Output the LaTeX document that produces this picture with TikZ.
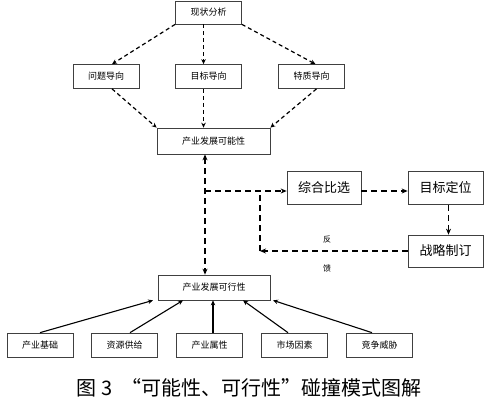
\documentclass[tikz,border=0pt]{standalone}
\usepackage{fontspec}
\setmainfont{Noto Sans CJK SC}
\usetikzlibrary{arrows.meta,calc}

\begin{document}
\begin{tikzpicture}[x=1pt, y=-1pt, font=\fontsize{9}{10}\selectfont,
    box/.style={draw=black!75, line width=0.7pt, inner sep=0pt, minimum width=66pt, minimum height=24pt},
    bigbox/.style={box, minimum width=74pt, minimum height=33pt, font=\fontsize{13}{14}\selectfont},
    dashline/.style={dash pattern=on 4pt off 3pt, line width=1.2pt, -{Stealth[length=5pt,width=4.5pt]}},
    thickdash/.style={dash pattern=on 6pt off 4pt, line width=1.7pt, -{Stealth[length=6pt,width=5pt]}},
    solidline/.style={line width=1.1pt, -{Stealth[length=5pt,width=4.5pt]}}]
    \useasboundingbox (0,0) rectangle (500,405);

    % --- Possibility part ---
    \node[box, minimum height=23pt] (xz) at (208.5,12.5) {现状分析};
    \node[box] (wt) at (106,76.5) {问题导向};
    \node[box] (mb) at (208.5,76.5) {目标导向};
    \node[box] (tz) at (311.5,76.5) {特质导向};
    \node[box, minimum width=113pt, minimum height=26pt] (kn) at (213.5,141) {产业发展可能性};
    % Analysis to the three guides
    \draw[dashline] (xz.south west) -- ([xshift=6pt]wt.north);
    \draw[dashline] ([xshift=-5pt]xz.south) -- ([xshift=-5pt]mb.north);
    \draw[dashline] (xz.south east) -- ([xshift=4pt]tz.north);
    % Guides to possibility
    \draw[dashline] ([xshift=6pt]wt.south) -- (kn.north west);
    \draw[dashline] ([xshift=-5pt]mb.south) -- ([xshift=-5pt]mb.south |- kn.north);
    \draw[dashline] ([xshift=5pt]tz.south) -- (kn.north east);

    % --- Comparison loop ---
    \node[bigbox] (zh) at (324,188) {综合比选};
    \node[bigbox, minimum width=75pt] (dw) at (445.5,188) {目标定位};
    \node[bigbox, minimum width=75pt, minimum height=32pt] (zl) at (445.5,251) {战略制订};
    \coordinate (jn) at (205,191);
    \coordinate (fb) at (260,251);
    \draw[thickdash] (jn) -- (jn -| zh.west);
    \draw[thickdash] (zh.east |- jn) -- (dw.west |- jn);
    \draw[thickdash] ([xshift=3pt]dw.south) -- ([xshift=3pt]zl.north);
    % Feedback
    \draw[thickdash] (zl.west) -- (fb);
    \draw[dash pattern=on 6pt off 4pt, line width=1.7pt] (fb) -- (fb |- jn);
    \node[font=\fontsize{8}{9}\selectfont] (fan) at (327,240) {反};
    \node[font=\fontsize{8}{9}\selectfont] (kui) at (327,268) {馈};

    % --- Feasibility part ---
    \node[box, minimum width=112pt, minimum height=25pt] (kx) at (214,287.5) {产业发展可行性};
    \draw[thickdash, {Stealth[length=6pt,width=5pt]}-{Stealth[length=6pt,width=5pt]}]
        (kn.south -| jn) -- (kx.north -| jn);
    \foreach \nm/\x/\txt/\dx/\tx in {b1/40/产业基础/0/-61, b2/124.5/资源供给/5.5/-31,
        b3/209.5/产业属性/3.5/-1, b4/294.5/市场因素/-6.5/29, b5/379.5/竞争威胁/-7.5/59}
    {
        \node[box] (\nm) at (\x,345) {\txt};
        \draw[solidline] ([xshift=\dx pt]\nm.north) -- ([xshift=\tx pt]kx.south);
    }

    % Caption
    \node[font=\fontsize{20}{22}\selectfont] (cap) at (249,388) {图 3 \ “可能性、可行性”碰撞模式图解};
\end{tikzpicture}
\end{document}
